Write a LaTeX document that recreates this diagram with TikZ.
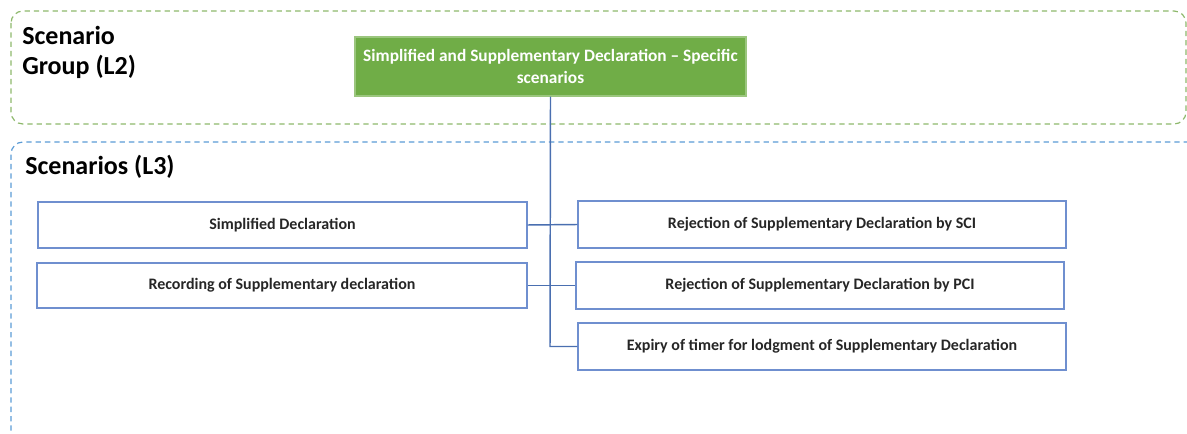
\documentclass[tikz,border=0pt]{standalone}
\usepackage{fontspec}
\setmainfont{Carlito}
\begin{document}
\begin{tikzpicture}[x=0.75pt,y=-0.75pt,
  scen/.style={draw=boxblue, line width=1.1pt, rectangle, inner sep=0pt, font=\bfseries\fontsize{12}{14}\selectfont, text=black!85},
  conn/.style={draw=blueline, line width=1.1pt},
  grp/.style={draw=greendash, dash pattern=on 4pt off 3pt, line width=0.9pt, rounded corners=9pt},
  area/.style={draw=bluedash, dash pattern=on 4pt off 3pt, line width=0.9pt, rounded corners=9pt},
  heading/.style={font=\bfseries\fontsize{19.5}{22.5}\selectfont, align=left, anchor=north west, inner sep=0pt}
]
\definecolor{greendash}{HTML}{8DB86B}
\definecolor{bluedash}{HTML}{5B9BD5}
\definecolor{blueline}{HTML}{4A6FB0}
\definecolor{boxblue}{HTML}{6F8FCF}
\definecolor{grpfill}{HTML}{70AD47}
\useasboundingbox (0,0) rectangle (1187,434);
\draw[grp] (11,11) rectangle (1186,124);
\draw[area] (11,440) -- (11,142) -- (1195,142);
\node[heading] (hg) at (22,26) {Scenario\\Group (L2)};
\node[heading] (hs) at (25,155) {Scenarios (L3)};
\node[fill=grpfill, draw=grpfill!70!white, line width=0.8pt, minimum width=391*0.75pt, minimum height=59*0.75pt, align=center, inner sep=0pt, text=white, font=\bfseries\fontsize{13}{16}\selectfont] (top) at (550.5,66.5) {Simplified and Supplementary Declaration -- Specific\\scenarios};
\node[scen, minimum width=489*0.75pt, minimum height=46*0.75pt] (l1) at (282.5,225) {Simplified Declaration};
\node[scen, minimum width=490*0.75pt, minimum height=45*0.75pt] (l2) at (282,285.5) {Recording of Supplementary declaration};
\node[scen, minimum width=488*0.75pt, minimum height=47*0.75pt] (r1) at (822,224.5) {Rejection of Supplementary Declaration by SCI};
\node[scen, minimum width=488*0.75pt, minimum height=47*0.75pt] (r2) at (820,285.5) {Rejection of Supplementary Declaration by PCI};
\node[scen, minimum width=488*0.75pt, minimum height=47*0.75pt] (r3) at (822,346.5) {Expiry of timer for lodgment of Supplementary Declaration};
\coordinate (bend) at (550,346.5);
\draw[conn] (top.south) -- (bend) -- (r3.west);
\draw[conn] (l1.east) -- (r1.west);
\draw[conn] (l2.east) -- (r2.west);
\end{tikzpicture}
\end{document}
